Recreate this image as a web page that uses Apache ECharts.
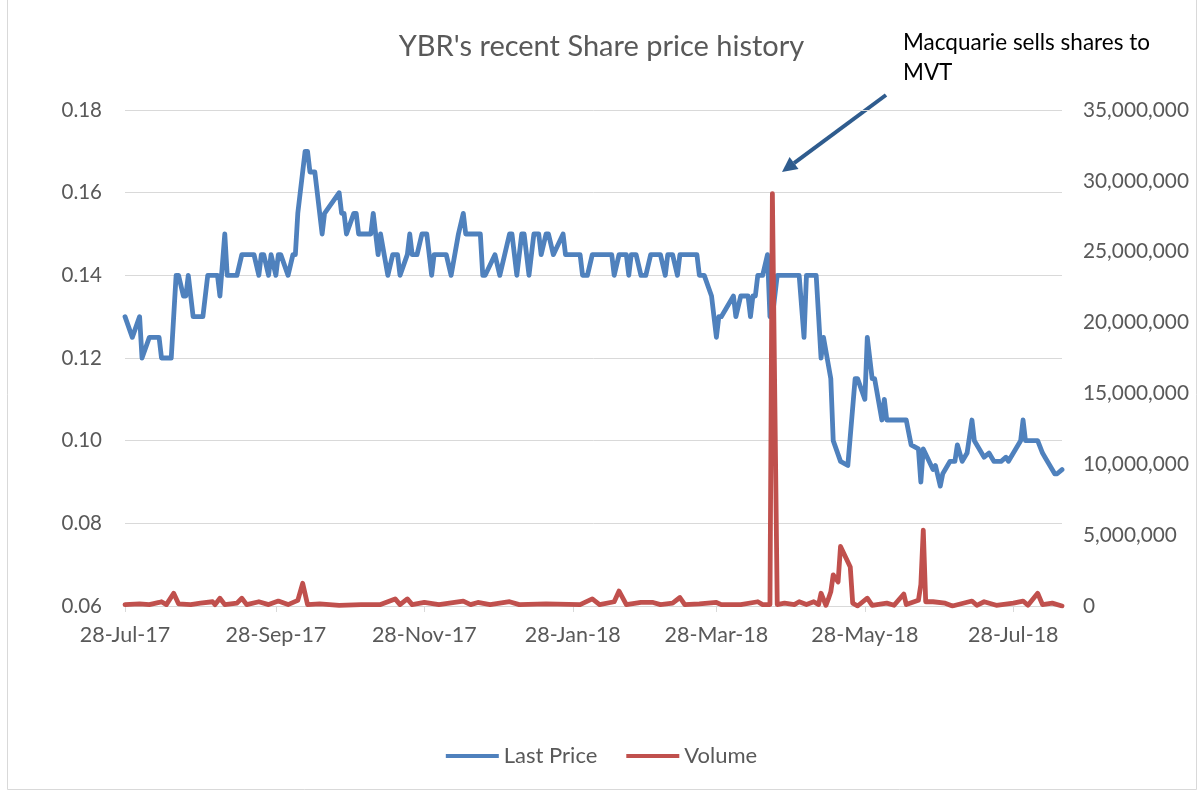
<!DOCTYPE html>
<html><head><meta charset="utf-8">
<script src="https://cdn.jsdelivr.net/npm/echarts@6/dist/echarts.min.js"></script>
<style>html,body{margin:0;padding:0;background:#fff}#c{width:1203px;height:793px}</style>
</head><body><div id="c"></div>
<script>
// ---------------- DATA ----------------
const titleText = "YBR's recent Share price history";
const annotationText = "Macquarie sells shares to\nMVT";
const seriesNames = ['Last Price', 'Volume'];

const xTickDates = ['2017-07-28','2017-09-28','2017-11-28','2018-01-28','2018-03-28','2018-05-28','2018-07-28'];
const xRange = ['2017-07-28', '2018-08-17'];
const priceAxis = { min: 0.06, max: 0.18, step: 0.02 };
const volumeAxis = { min: 0, max: 35000000, step: 5000000 };

const priceDates = [
'2017-07-28','2017-07-31','2017-08-03','2017-08-04','2017-08-07','2017-08-11','2017-08-12','2017-08-16','2017-08-18','2017-08-19',
'2017-08-21','2017-08-22','2017-08-23','2017-08-25','2017-08-29','2017-08-31','2017-09-04','2017-09-05','2017-09-07','2017-09-08',
'2017-09-12','2017-09-14','2017-09-19','2017-09-21','2017-09-22','2017-09-23','2017-09-25','2017-09-26','2017-09-28','2017-09-29',
'2017-09-30','2017-10-03','2017-10-05','2017-10-06','2017-10-07','2017-10-10','2017-10-11','2017-10-12','2017-10-14','2017-10-17',
'2017-10-18','2017-10-24','2017-10-25','2017-10-26','2017-10-27','2017-10-30','2017-10-31','2017-11-01','2017-11-06','2017-11-07',
'2017-11-09','2017-11-10','2017-11-13','2017-11-15','2017-11-17','2017-11-18','2017-11-21','2017-11-22','2017-11-23','2017-11-25',
'2017-11-27','2017-11-29','2017-12-01','2017-12-02','2017-12-07','2017-12-09','2017-12-12','2017-12-14','2017-12-15','2017-12-21',
'2017-12-22','2017-12-23','2017-12-27','2017-12-29','2018-01-02','2018-01-03','2018-01-05','2018-01-07','2018-01-08','2018-01-10',
'2018-01-12','2018-01-14','2018-01-15','2018-01-17','2018-01-18','2018-01-20','2018-01-24','2018-01-25','2018-01-31','2018-02-01',
'2018-02-03','2018-02-05','2018-02-13','2018-02-14','2018-02-16','2018-02-19','2018-02-20','2018-02-21','2018-02-23','2018-02-25',
'2018-02-27','2018-03-01','2018-03-05','2018-03-07','2018-03-08','2018-03-10','2018-03-12','2018-03-13','2018-03-20','2018-03-21',
'2018-03-23','2018-03-26','2018-03-28','2018-03-29','2018-03-30','2018-04-04','2018-04-05','2018-04-07','2018-04-10','2018-04-11',
'2018-04-12','2018-04-13','2018-04-14','2018-04-16','2018-04-18','2018-04-19','2018-04-20','2018-04-22','2018-05-01','2018-05-03',
'2018-05-04','2018-05-08','2018-05-10','2018-05-11','2018-05-14','2018-05-15','2018-05-18','2018-05-21','2018-05-24','2018-05-25',
'2018-05-28','2018-05-29','2018-05-31','2018-06-01','2018-06-04','2018-06-05','2018-06-06','2018-06-14','2018-06-16','2018-06-19',
'2018-06-20','2018-06-21','2018-06-25','2018-06-26','2018-06-28','2018-06-29','2018-07-02','2018-07-04','2018-07-05','2018-07-07',
'2018-07-09','2018-07-11','2018-07-12','2018-07-16','2018-07-18','2018-07-20','2018-07-23','2018-07-25','2018-07-26','2018-07-31',
'2018-08-01','2018-08-02','2018-08-07','2018-08-09','2018-08-10','2018-08-14','2018-08-15','2018-08-17'
];
const priceValues = [
0.13,0.125,0.13,0.12,0.125,0.125,0.12,0.12,0.14,0.14,
0.135,0.135,0.14,0.13,0.13,0.14,0.14,0.135,0.15,0.14,
0.14,0.145,0.145,0.14,0.145,0.145,0.14,0.145,0.14,0.145,
0.145,0.14,0.145,0.145,0.155,0.17,0.17,0.165,0.165,0.15,
0.155,0.16,0.155,0.155,0.15,0.155,0.155,0.15,0.15,0.155,
0.145,0.15,0.14,0.145,0.145,0.14,0.145,0.15,0.145,0.145,
0.15,0.15,0.14,0.145,0.145,0.14,0.15,0.155,0.15,0.15,
0.14,0.14,0.145,0.14,0.15,0.15,0.14,0.15,0.15,0.14,
0.15,0.15,0.145,0.15,0.15,0.145,0.15,0.145,0.145,0.14,
0.14,0.145,0.145,0.14,0.145,0.145,0.14,0.145,0.145,0.14,
0.14,0.145,0.145,0.14,0.145,0.145,0.14,0.145,0.145,0.14,
0.14,0.135,0.125,0.13,0.13,0.135,0.13,0.135,0.135,0.13,
0.135,0.135,0.14,0.14,0.145,0.13,0.13,0.14,0.14,0.125,
0.14,0.14,0.12,0.125,0.115,0.10,0.095,0.094,0.115,0.115,
0.11,0.125,0.115,0.115,0.105,0.11,0.105,0.105,0.099,0.098,
0.09,0.098,0.093,0.094,0.089,0.092,0.095,0.095,0.099,0.095,
0.097,0.105,0.10,0.096,0.097,0.095,0.095,0.096,0.095,0.10,
0.105,0.10,0.10,0.097,0.096,0.092,0.092,0.093
];

const volumeDates = [
'2017-07-28','2017-08-03','2017-08-07','2017-08-11','2017-08-12','2017-08-14','2017-08-17','2017-08-19','2017-08-24','2017-08-28',
'2017-09-02','2017-09-03','2017-09-05','2017-09-07','2017-09-12','2017-09-14','2017-09-16','2017-09-21','2017-09-25','2017-09-29',
'2017-10-03','2017-10-07','2017-10-09','2017-10-11','2017-10-16','2017-10-24','2017-11-02','2017-11-10','2017-11-16','2017-11-18',
'2017-11-21','2017-11-23','2017-11-28','2017-12-04','2017-12-14','2017-12-17','2017-12-20','2017-12-25','2018-01-02','2018-01-06',
'2018-01-17','2018-01-31','2018-02-05','2018-02-08','2018-02-14','2018-02-16','2018-02-19','2018-02-25','2018-03-02','2018-03-05',
'2018-03-10','2018-03-13','2018-03-15','2018-03-21','2018-03-28','2018-03-30','2018-04-07','2018-04-14','2018-04-16','2018-04-19',
'2018-04-20','2018-04-22','2018-04-25','2018-04-29','2018-05-01','2018-05-04','2018-05-07','2018-05-09','2018-05-10','2018-05-12',
'2018-05-13','2018-05-14','2018-05-15','2018-05-17','2018-05-18','2018-05-22','2018-05-23','2018-05-25','2018-05-29','2018-05-31',
'2018-06-06','2018-06-09','2018-06-13','2018-06-14','2018-06-19','2018-06-20','2018-06-21','2018-06-22','2018-06-25','2018-06-30',
'2018-07-03','2018-07-11','2018-07-13','2018-07-16','2018-07-21','2018-07-28','2018-08-01','2018-08-03','2018-08-07','2018-08-09',
'2018-08-13','2018-08-17'
];
const volumeValues = [
100000,150000,100000,250000,300000,100000,900000,150000,100000,200000,
300000,100000,550000,100000,200000,550000,100000,300000,100000,350000,
100000,400000,1600000,100000,150000,50000,100000,100000,500000,100000,
500000,100000,250000,100000,350000,100000,250000,100000,300000,100000,
150000,100000,500000,100000,300000,1050000,100000,250000,250000,100000,
200000,600000,100000,150000,250000,100000,100000,300000,100000,100000,
29100000,100000,200000,100000,300000,100000,300000,100000,900000,50000,
500000,1000000,2200000,1700000,4200000,2750000,200000,0,550000,50000,
200000,50000,850000,100000,400000,1500000,5350000,300000,300000,200000,
0,350000,50000,300000,50000,200000,350000,50000,900000,100000,
200000,0
];

// ---------------- CHART ----------------
const MONTHS = ['Jan','Feb','Mar','Apr','May','Jun','Jul','Aug','Sep','Oct','Nov','Dec'];
function ts(s) { const p = s.split('-').map(Number); return new Date(p[0], p[1]-1, p[2]).getTime(); }
function fmtDate(v) { const d = new Date(v); return d.getDate() + '-' + MONTHS[d.getMonth()] + '-' + String(d.getFullYear()).slice(2); }

const FONT = 'Lato, "Open Sans", sans-serif';
const TXT = '#595959';
const GRID = '#D9D9D9';
const tickValues = xTickDates.map(ts);

const chart = echarts.init(document.getElementById('c'), null, { renderer: 'canvas' });

// Arrow geometry (annotation)
const tip = [782, 172], tail = [886, 95];
const dx = tip[0]-tail[0], dy = tip[1]-tail[1], L = Math.hypot(dx, dy);
const ux = dx/L, uy = dy/L, head = 15, hw = 7.5;
const base = [tip[0]-ux*head, tip[1]-uy*head];

chart.setOption({
  animation: false,
  backgroundColor: '#fff',
  textStyle: { fontFamily: FONT },
  title: {
    text: titleText, left: 'center', top: 27,
    textStyle: { fontFamily: FONT, fontSize: 29, fontWeight: 'normal', color: TXT }
  },
  grid: { left: 125, right: 141, top: 110, bottom: 187, containLabel: false },
  legend: {
    bottom: 21, left: 'center', icon: 'rect', itemWidth: 53, itemHeight: 4, itemGap: 29,
    data: seriesNames,
    textStyle: { fontFamily: FONT, fontSize: 22, color: TXT }
  },
  xAxis: {
    type: 'value', min: ts(xRange[0]), max: ts(xRange[1]), scale: true,
    axisLine: { show: true, lineStyle: { color: GRID, width: 1 } },
    axisTick: { show: true, length: 6, lineStyle: { color: GRID }, customValues: tickValues },
    axisLabel: { customValues: tickValues, formatter: v => fmtDate(v), color: TXT, fontSize: 21.5, fontFamily: FONT, margin: 18, showMinLabel: true, showMaxLabel: true },
    splitLine: { show: false }
  },
  yAxis: [
    { type: 'value', position: 'left', min: priceAxis.min, max: priceAxis.max, interval: priceAxis.step,
      axisLine: { show: false }, axisTick: { show: false },
      axisLabel: { formatter: v => v.toFixed(2), color: TXT, fontSize: 20.5, fontFamily: FONT, margin: 23 },
      splitLine: { lineStyle: { color: GRID, width: 1 } } },
    { type: 'value', position: 'right', min: volumeAxis.min, max: volumeAxis.max, interval: volumeAxis.step,
      axisLine: { show: false }, axisTick: { show: false },
      axisLabel: { formatter: v => Math.round(v).toLocaleString('en-US'), color: TXT, fontSize: 20.8, fontFamily: FONT, margin: 21 },
      splitLine: { show: false } }
  ],
  series: [
    { name: seriesNames[0], type: 'line', yAxisIndex: 0, showSymbol: false, symbol: 'none',
      data: priceDates.map((d, i) => [ts(d), priceValues[i]]),
      itemStyle: { color: '#4F81BD' },
      lineStyle: { color: '#4F81BD', width: 4.8, join: 'round', cap: 'round' }, z: 2 },
    { name: seriesNames[1], type: 'line', yAxisIndex: 1, showSymbol: false, symbol: 'none',
      data: volumeDates.map((d, i) => [ts(d), volumeValues[i]]),
      itemStyle: { color: '#C0504D' },
      lineStyle: { color: '#C0504D', width: 4.8, join: 'round', cap: 'round' }, z: 3 }
  ],
  graphic: [
    { type: 'rect', shape: { x: 7.5, y: -5, width: 1189, height: 794.5 }, style: { fill: 'none', stroke: GRID, lineWidth: 1 }, silent: true, z: -1 },
    { type: 'text', x: 903, y: 28, style: { text: annotationText, fill: '#000', font: '22.5px ' + FONT, lineHeight: 30 } },
    { type: 'line', shape: { x1: tail[0], y1: tail[1], x2: base[0], y2: base[1] }, style: { stroke: '#2F5C8E', lineWidth: 4 } },
    { type: 'polygon', shape: { points: [tip, [base[0]+(-uy)*hw, base[1]+ux*hw], [base[0]-(-uy)*hw, base[1]-ux*hw]] }, style: { fill: '#2F5C8E' } }
  ]
});
</script>
</body></html>
